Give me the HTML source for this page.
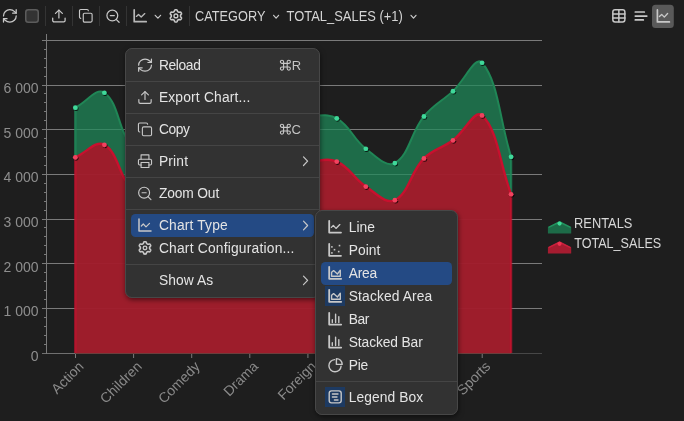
<!DOCTYPE html>
<html><head><meta charset="utf-8">
<style>
html,body{margin:0;padding:0;background:#1e1e1e;width:684px;height:421px;overflow:hidden}
svg{position:absolute;left:0;top:0;display:block;will-change:transform}
text{font-family:"Liberation Sans",sans-serif}
.yl{font-size:14px;fill:#8e8e8e}
.xl{font-size:14px;fill:#8a8a8a}
.tb{font-size:14.2px;fill:#d4d4d4}
.mi{font-size:13.8px;fill:#e4e4e4}
.sc{font-size:13px;fill:#c4c4c4}
.lg{font-size:14.4px;fill:#d8d8d8}
.ic{fill:none;stroke:#c8c8c8;stroke-width:1.5;stroke-linecap:round;stroke-linejoin:round}
.dim{stroke:#b8b8b8}
</style></head>
<body>
<svg width="684" height="421" viewBox="0 0 684 421">
<rect x="42" y="308" width="500" height="1" fill="#7a7a7a"/>
<rect x="42" y="263" width="500" height="1" fill="#7a7a7a"/>
<rect x="42" y="219" width="500" height="1" fill="#7a7a7a"/>
<rect x="42" y="174" width="500" height="1" fill="#7a7a7a"/>
<rect x="42" y="129" width="500" height="1" fill="#7a7a7a"/>
<rect x="42" y="85" width="500" height="1" fill="#7a7a7a"/>
<rect x="42" y="40" width="500" height="1" fill="#7a7a7a"/>
<rect x="42" y="353" width="33" height="1" fill="#707070"/>
<rect x="75" y="353" width="467" height="1" fill="#474747"/>
<rect x="46" y="34" width="1" height="320" fill="#7a7a7a"/>
<rect x="44" y="344" width="2" height="1" fill="#7a7a7a"/>
<rect x="44" y="335" width="2" height="1" fill="#7a7a7a"/>
<rect x="44" y="326" width="2" height="1" fill="#7a7a7a"/>
<rect x="44" y="317" width="2" height="1" fill="#7a7a7a"/>
<rect x="44" y="299" width="2" height="1" fill="#7a7a7a"/>
<rect x="44" y="290" width="2" height="1" fill="#7a7a7a"/>
<rect x="44" y="281" width="2" height="1" fill="#7a7a7a"/>
<rect x="44" y="272" width="2" height="1" fill="#7a7a7a"/>
<rect x="44" y="254" width="2" height="1" fill="#7a7a7a"/>
<rect x="44" y="245" width="2" height="1" fill="#7a7a7a"/>
<rect x="44" y="236" width="2" height="1" fill="#7a7a7a"/>
<rect x="44" y="227" width="2" height="1" fill="#7a7a7a"/>
<rect x="44" y="210" width="2" height="1" fill="#7a7a7a"/>
<rect x="44" y="201" width="2" height="1" fill="#7a7a7a"/>
<rect x="44" y="192" width="2" height="1" fill="#7a7a7a"/>
<rect x="44" y="183" width="2" height="1" fill="#7a7a7a"/>
<rect x="44" y="165" width="2" height="1" fill="#7a7a7a"/>
<rect x="44" y="156" width="2" height="1" fill="#7a7a7a"/>
<rect x="44" y="147" width="2" height="1" fill="#7a7a7a"/>
<rect x="44" y="138" width="2" height="1" fill="#7a7a7a"/>
<rect x="44" y="120" width="2" height="1" fill="#7a7a7a"/>
<rect x="44" y="111" width="2" height="1" fill="#7a7a7a"/>
<rect x="44" y="102" width="2" height="1" fill="#7a7a7a"/>
<rect x="44" y="93" width="2" height="1" fill="#7a7a7a"/>
<rect x="44" y="76" width="2" height="1" fill="#7a7a7a"/>
<rect x="44" y="67" width="2" height="1" fill="#7a7a7a"/>
<rect x="44" y="58" width="2" height="1" fill="#7a7a7a"/>
<rect x="44" y="49" width="2" height="1" fill="#7a7a7a"/>
<text x="38.5" y="361.0" text-anchor="end" class="yl">0</text>
<text x="38.5" y="316.3" text-anchor="end" class="yl">1 000</text>
<text x="38.5" y="271.7" text-anchor="end" class="yl">2 000</text>
<text x="38.5" y="227.0" text-anchor="end" class="yl">3 000</text>
<text x="38.5" y="182.3" text-anchor="end" class="yl">4 000</text>
<text x="38.5" y="137.7" text-anchor="end" class="yl">5 000</text>
<text x="38.5" y="93.0" text-anchor="end" class="yl">6 000</text>
<path d="M75.30 107.68 C86.92 101.70 96.32 87.26 104.35 92.74 C119.56 103.11 117.59 132.19 133.40 147.31 C140.83 154.42 153.23 153.42 162.45 148.29 C176.47 140.49 177.50 122.39 191.50 114.97 C200.74 110.08 209.76 120.20 220.55 117.52 C233.00 114.43 237.78 101.05 249.60 100.55 C261.02 100.07 266.38 111.84 278.65 115.08 C289.62 117.98 296.10 115.26 307.70 115.90 C319.34 116.54 327.24 112.91 336.75 118.29 C350.48 126.05 352.67 138.62 365.80 148.74 C375.91 156.53 386.23 167.86 394.85 163.07 C409.47 154.94 410.24 133.35 423.90 116.44 C433.48 104.58 441.64 101.59 452.95 91.14 C464.88 80.13 475.21 55.09 482.00 62.77 C498.45 81.38 499.43 119.23 511.05 156.86 L511.05 353.50 L75.30 353.50 Z" fill="#1f8a5a" fill-opacity="0.72"/>
<path d="M75.30 107.68 C86.92 101.70 96.32 87.26 104.35 92.74 C119.56 103.11 117.59 132.19 133.40 147.31 C140.83 154.42 153.23 153.42 162.45 148.29 C176.47 140.49 177.50 122.39 191.50 114.97 C200.74 110.08 209.76 120.20 220.55 117.52 C233.00 114.43 237.78 101.05 249.60 100.55 C261.02 100.07 266.38 111.84 278.65 115.08 C289.62 117.98 296.10 115.26 307.70 115.90 C319.34 116.54 327.24 112.91 336.75 118.29 C350.48 126.05 352.67 138.62 365.80 148.74 C375.91 156.53 386.23 167.86 394.85 163.07 C409.47 154.94 410.24 133.35 423.90 116.44 C433.48 104.58 441.64 101.59 452.95 91.14 C464.88 80.13 475.21 55.09 482.00 62.77 C498.45 81.38 499.43 119.23 511.05 156.86" fill="none" stroke="#208656" stroke-width="2"/>
<path d="M511.05 156.86 V194.25" stroke="#1f8a5a" stroke-opacity="0.8" stroke-width="2.4"/>
<path d="M75.30 107.68 V157.35" stroke="#1f8a5a" stroke-opacity="0.8" stroke-width="2.4"/>
<path d="M75.30 157.35 C86.92 152.33 95.69 140.03 104.35 144.82 C118.93 152.90 118.36 177.76 133.40 189.52 C141.60 195.93 153.22 195.40 162.45 190.23 C176.46 182.39 177.66 163.15 191.50 157.00 C200.90 152.82 209.56 166.14 220.55 164.42 C232.80 162.50 237.95 147.97 249.60 147.90 C261.19 147.82 266.26 161.02 278.65 164.04 C289.50 166.68 296.07 162.54 307.70 162.04 C319.31 161.55 326.73 157.34 336.75 161.57 C349.97 167.14 353.15 178.13 365.80 186.53 C376.39 193.56 385.86 204.49 394.85 200.14 C409.10 193.25 410.01 172.73 423.90 158.43 C433.25 148.80 441.98 148.44 452.95 140.32 C465.22 131.25 474.73 108.68 482.00 115.43 C497.97 130.25 499.43 162.72 511.05 194.25 L511.05 353.50 L75.30 353.50 Z" fill="#ac1529" fill-opacity="0.9"/>
<path d="M511.05 194.25 V353.00" stroke="#c8102e" stroke-opacity="0.75" stroke-width="2.4"/>
<path d="M75.30 157.35 V353.00" stroke="#c8102e" stroke-opacity="0.75" stroke-width="2.4"/>
<path d="M75.30 157.35 C86.92 152.33 95.69 140.03 104.35 144.82 C118.93 152.90 118.36 177.76 133.40 189.52 C141.60 195.93 153.22 195.40 162.45 190.23 C176.46 182.39 177.66 163.15 191.50 157.00 C200.90 152.82 209.56 166.14 220.55 164.42 C232.80 162.50 237.95 147.97 249.60 147.90 C261.19 147.82 266.26 161.02 278.65 164.04 C289.50 166.68 296.07 162.54 307.70 162.04 C319.31 161.55 326.73 157.34 336.75 161.57 C349.97 167.14 353.15 178.13 365.80 186.53 C376.39 193.56 385.86 204.49 394.85 200.14 C409.10 193.25 410.01 172.73 423.90 158.43 C433.25 148.80 441.98 148.44 452.95 140.32 C465.22 131.25 474.73 108.68 482.00 115.43 C497.97 130.25 499.43 162.72 511.05 194.25" fill="none" stroke="#c8102e" stroke-width="2.4"/>
<rect x="75.00" y="354" width="1" height="4" fill="#7a7a7a"/>
<text transform="translate(84.6 367.3) rotate(-45)" text-anchor="end" class="xl">Action</text>
<rect x="133.10" y="354" width="1" height="4" fill="#7a7a7a"/>
<text transform="translate(142.7 367.3) rotate(-45)" text-anchor="end" class="xl">Children</text>
<rect x="191.20" y="354" width="1" height="4" fill="#7a7a7a"/>
<text transform="translate(200.8 367.3) rotate(-45)" text-anchor="end" class="xl">Comedy</text>
<rect x="249.30" y="354" width="1" height="4" fill="#7a7a7a"/>
<text transform="translate(258.9 367.3) rotate(-45)" text-anchor="end" class="xl">Drama</text>
<rect x="307.40" y="354" width="1" height="4" fill="#7a7a7a"/>
<text transform="translate(317.0 367.3) rotate(-45)" text-anchor="end" class="xl">Foreign</text>
<rect x="365.50" y="354" width="1" height="4" fill="#7a7a7a"/>
<text transform="translate(375.1 367.3) rotate(-45)" text-anchor="end" class="xl">Horror</text>
<rect x="423.60" y="354" width="1" height="4" fill="#7a7a7a"/>
<text transform="translate(433.2 367.3) rotate(-45)" text-anchor="end" class="xl">New</text>
<rect x="481.70" y="354" width="1" height="4" fill="#7a7a7a"/>
<text transform="translate(491.3 367.3) rotate(-45)" text-anchor="end" class="xl">Sports</text>
<defs><filter id="sh" x="-50%" y="-50%" width="200%" height="200%"><feDropShadow dx="0.8" dy="1.0" stdDeviation="0.6" flood-color="#000" flood-opacity="0.8"/></filter></defs>
<g filter="url(#sh)">
<circle cx="75.30" cy="107.68" r="2.35" fill="#3fd99a"/>
<circle cx="104.35" cy="92.74" r="2.35" fill="#3fd99a"/>
<circle cx="133.40" cy="147.31" r="2.35" fill="#3fd99a"/>
<circle cx="162.45" cy="148.29" r="2.35" fill="#3fd99a"/>
<circle cx="191.50" cy="114.97" r="2.35" fill="#3fd99a"/>
<circle cx="220.55" cy="117.52" r="2.35" fill="#3fd99a"/>
<circle cx="249.60" cy="100.55" r="2.35" fill="#3fd99a"/>
<circle cx="278.65" cy="115.08" r="2.35" fill="#3fd99a"/>
<circle cx="307.70" cy="115.90" r="2.35" fill="#3fd99a"/>
<circle cx="336.75" cy="118.29" r="2.35" fill="#3fd99a"/>
<circle cx="365.80" cy="148.74" r="2.35" fill="#3fd99a"/>
<circle cx="394.85" cy="163.07" r="2.35" fill="#3fd99a"/>
<circle cx="423.90" cy="116.44" r="2.35" fill="#3fd99a"/>
<circle cx="452.95" cy="91.14" r="2.35" fill="#3fd99a"/>
<circle cx="482.00" cy="62.77" r="2.35" fill="#3fd99a"/>
<circle cx="511.05" cy="156.86" r="2.35" fill="#3fd99a"/>
<circle cx="75.30" cy="157.35" r="2.35" fill="#f2425e"/>
<circle cx="104.35" cy="144.82" r="2.35" fill="#f2425e"/>
<circle cx="133.40" cy="189.52" r="2.35" fill="#f2425e"/>
<circle cx="162.45" cy="190.23" r="2.35" fill="#f2425e"/>
<circle cx="191.50" cy="157.00" r="2.35" fill="#f2425e"/>
<circle cx="220.55" cy="164.42" r="2.35" fill="#f2425e"/>
<circle cx="249.60" cy="147.90" r="2.35" fill="#f2425e"/>
<circle cx="278.65" cy="164.04" r="2.35" fill="#f2425e"/>
<circle cx="307.70" cy="162.04" r="2.35" fill="#f2425e"/>
<circle cx="336.75" cy="161.57" r="2.35" fill="#f2425e"/>
<circle cx="365.80" cy="186.53" r="2.35" fill="#f2425e"/>
<circle cx="394.85" cy="200.14" r="2.35" fill="#f2425e"/>
<circle cx="423.90" cy="158.43" r="2.35" fill="#f2425e"/>
<circle cx="452.95" cy="140.32" r="2.35" fill="#f2425e"/>
<circle cx="482.00" cy="115.43" r="2.35" fill="#f2425e"/>
<circle cx="511.05" cy="194.25" r="2.35" fill="#f2425e"/>
</g>
<g class="ic" style="stroke-width:1.80px" transform="matrix(0.7056 0 0 0.6889 1.383 7.633)" ><path d="M3 12a9 9 0 0 1 9-9 9.75 9.75 0 0 1 6.74 2.74L21 8"/><path d="M21 3v5h-5"/><path d="M21 12a9 9 0 0 1-9 9 9.75 9.75 0 0 1-6.74-2.74L3 16"/><path d="M8 16H3v5"/></g>
<rect x="25.75" y="9.75" width="12.5" height="12.5" rx="2.5" fill="#333333" stroke="#5c5c5c" stroke-width="1.5"/>
<rect x="45" y="6" width="1" height="20" fill="#343434"/>
<rect x="72" y="6" width="1" height="20" fill="#343434"/>
<rect x="99" y="6" width="1" height="20" fill="#343434"/>
<rect x="126" y="6" width="1" height="20" fill="#343434"/>
<rect x="189" y="6" width="1" height="20" fill="#343434"/>
<g class="ic" style="stroke-width:1.80px" transform="matrix(0.6889 0 0 0.6556 50.633 8.133)" ><path d="M21 15v4a2 2 0 0 1-2 2H5a2 2 0 0 1-2-2v-4"/><path d="M17 8 12 3 7 8"/><path d="M12 3v12"/></g>
<g class="ic" style="stroke-width:1.80px" transform="matrix(0.6300 0 0 0.6300 78.240 8.240)" ><rect width="14" height="14" x="8" y="8" rx="2" ry="2"/><path d="M4 16c-1.1 0-2-.9-2-2V4c0-1.1.9-2 2-2h10c1.1 0 2 .9 2 2"/></g>
<g class="ic" style="stroke-width:1.80px" transform="matrix(0.6778 0 0 0.6722 104.867 8.183)" ><circle cx="11" cy="11" r="8"/><path d="M21 21l-4.35-4.35"/><path d="M8 11h6"/></g>
<g class="ic dim" style="stroke-width:1.70px"><path d="M134.20 9.90 V21.70 H146.20"/><path d="M136.40 16.40 L138.50 14.40 L141.20 17.00 L144.80 13.60" style="stroke-width:1.36px"/></g>
<path class="ic" style="stroke-width:1.20px" d="M155.20 15.30 L157.90 18.20 L160.60 15.30"/>
<g class="ic" style="stroke-width:1.60px"><path d="M180.50 15.90 L180.50 16.06 L180.50 16.22 L180.50 16.38 L180.51 16.55 L180.56 16.72 L180.69 16.92 L180.92 17.15 L181.21 17.42 L181.42 17.69 L181.51 17.94 L181.50 18.16 L181.45 18.37 L181.38 18.57 L181.28 18.76 L181.18 18.95 L181.07 19.13 L180.95 19.31 L180.82 19.47 L180.66 19.62 L180.47 19.73 L180.21 19.78 L179.87 19.74 L179.50 19.62 L179.18 19.54 L178.94 19.53 L178.77 19.57 L178.62 19.64 L178.48 19.72 L178.34 19.80 L178.20 19.88 L178.06 19.96 L177.92 20.04 L177.78 20.12 L177.65 20.22 L177.52 20.35 L177.41 20.56 L177.33 20.88 L177.24 21.26 L177.11 21.58 L176.94 21.77 L176.74 21.88 L176.54 21.94 L176.32 21.98 L176.11 21.99 L175.90 22.00 L175.69 21.99 L175.48 21.98 L175.26 21.94 L175.06 21.88 L174.86 21.77 L174.69 21.58 L174.56 21.26 L174.47 20.88 L174.39 20.56 L174.28 20.35 L174.15 20.22 L174.02 20.12 L173.88 20.04 L173.74 19.96 L173.60 19.88 L173.46 19.80 L173.32 19.72 L173.18 19.64 L173.03 19.57 L172.86 19.53 L172.62 19.54 L172.30 19.62 L171.93 19.74 L171.59 19.78 L171.33 19.73 L171.14 19.62 L170.98 19.47 L170.85 19.31 L170.73 19.13 L170.62 18.95 L170.52 18.76 L170.42 18.57 L170.35 18.37 L170.30 18.16 L170.29 17.94 L170.38 17.69 L170.59 17.42 L170.88 17.15 L171.11 16.92 L171.24 16.72 L171.29 16.55 L171.30 16.38 L171.30 16.22 L171.30 16.06 L171.30 15.90 L171.30 15.74 L171.30 15.58 L171.30 15.42 L171.29 15.25 L171.24 15.08 L171.11 14.88 L170.88 14.65 L170.59 14.38 L170.38 14.11 L170.29 13.86 L170.30 13.64 L170.35 13.43 L170.42 13.23 L170.52 13.04 L170.62 12.85 L170.73 12.67 L170.85 12.49 L170.98 12.33 L171.14 12.18 L171.33 12.07 L171.59 12.02 L171.93 12.06 L172.30 12.18 L172.62 12.26 L172.86 12.27 L173.03 12.23 L173.18 12.16 L173.32 12.08 L173.46 12.00 L173.60 11.92 L173.74 11.84 L173.88 11.76 L174.02 11.68 L174.15 11.58 L174.28 11.45 L174.39 11.24 L174.47 10.92 L174.56 10.54 L174.69 10.22 L174.86 10.03 L175.06 9.92 L175.26 9.86 L175.48 9.82 L175.69 9.81 L175.90 9.80 L176.11 9.81 L176.32 9.82 L176.54 9.86 L176.74 9.92 L176.94 10.03 L177.11 10.22 L177.24 10.54 L177.33 10.92 L177.41 11.24 L177.52 11.45 L177.65 11.58 L177.78 11.68 L177.92 11.76 L178.06 11.84 L178.20 11.92 L178.34 12.00 L178.48 12.08 L178.62 12.16 L178.77 12.23 L178.94 12.27 L179.18 12.26 L179.50 12.18 L179.87 12.06 L180.21 12.02 L180.47 12.07 L180.66 12.18 L180.82 12.33 L180.95 12.49 L181.07 12.67 L181.18 12.85 L181.28 13.04 L181.38 13.23 L181.45 13.43 L181.50 13.64 L181.51 13.86 L181.42 14.11 L181.21 14.38 L180.92 14.65 L180.69 14.88 L180.56 15.08 L180.51 15.25 L180.50 15.42 L180.50 15.58 L180.50 15.74Z"/><circle cx="175.90" cy="15.90" r="1.90" style="stroke-width:1.36px"/></g>
<text id="t_cat" x="195.10" y="21.30" class="tb" textLength="70.31" lengthAdjust="spacingAndGlyphs">CATEGORY</text>
<path class="ic" style="stroke-width:1.20px" d="M273.60 15.30 L276.10 18.20 L278.60 15.30"/>
<text id="t_ts1" x="286.60" y="21.30" class="tb" textLength="116.22" lengthAdjust="spacingAndGlyphs">TOTAL_SALES (+1)</text>
<path class="ic" style="stroke-width:1.20px" d="M411.00 15.30 L413.50 18.20 L416.00 15.30"/>
<g class="ic" style="stroke-width:1.5px"><rect x="612.85" y="9.65" width="12" height="12.3" rx="2.2"/><path d="M613 13.9H625 M613 18.1H625 M618.85 9.8V21.8"/></g>
<g class="ic" style="stroke-width:1.7px"><path d="M635.3 12H644.3 M635.3 16.1H646.8 M635.3 19.9H643.3"/></g>
<rect x="652" y="4.8" width="21.8" height="23.2" rx="3.5" fill="#595959"/>
<g class="ic" style="stroke-width:1.70px"><path d="M657.40 9.90 V21.90 H669.40"/><path d="M659.40 16.60 L661.70 14.40 L664.30 17.10 L667.60 13.50" style="stroke-width:1.36px"/></g>
<path d="M547.90 227.20 L559.55 221.60 L571.20 227.20 L571.20 233.40 L547.90 233.40 Z" fill="#1d6b48"/><path d="M548.50 227.40 L559.55 222.00 L570.60 227.40" fill="none" stroke="#22925e" stroke-width="1.6"/><circle cx="559.55" cy="223.60" r="2.1" fill="#3ddc97"/>
<text id="t_lg1" x="574.10" y="228.00" class="lg" textLength="58.31" lengthAdjust="spacingAndGlyphs">RENTALS</text>
<path d="M547.90 247.40 L559.55 241.80 L571.20 247.40 L571.20 253.60 L547.90 253.60 Z" fill="#a51c30"/><path d="M548.50 247.60 L559.55 242.20 L570.60 247.60" fill="none" stroke="#c8203c" stroke-width="1.6"/><circle cx="559.55" cy="243.80" r="2.1" fill="#ee3050"/>
<text id="t_lg2" x="574.20" y="248.20" class="lg" textLength="87.05" lengthAdjust="spacingAndGlyphs">TOTAL_SALES</text>
<defs><filter id="msh" x="-20%" y="-20%" width="140%" height="140%"><feDropShadow dx="0.5" dy="2" stdDeviation="2.4" flood-color="#000" flood-opacity="0.5"/></filter></defs>
<rect x="125.5" y="48.5" width="194" height="249" rx="6.5" fill="#323232" stroke="#474747" stroke-width="1" filter="url(#msh)"/>
<rect x="126" y="81" width="193" height="1" fill="#454545"/>
<rect x="126" y="113" width="193" height="1" fill="#454545"/>
<rect x="126" y="145" width="193" height="1" fill="#454545"/>
<rect x="126" y="177" width="193" height="1" fill="#454545"/>
<rect x="126" y="209" width="193" height="1" fill="#454545"/>
<rect x="126" y="264" width="193" height="1" fill="#454545"/>
<rect x="131" y="214" width="183" height="23" rx="4.5" fill="#244a84"/>
<g class="ic" style="stroke-width:1.70px" transform="matrix(0.7111 0 0 0.6667 136.517 57.150)" ><path d="M3 12a9 9 0 0 1 9-9 9.75 9.75 0 0 1 6.74 2.74L21 8"/><path d="M21 3v5h-5"/><path d="M21 12a9 9 0 0 1-9 9 9.75 9.75 0 0 1-6.74-2.74L3 16"/><path d="M8 16H3v5"/></g>
<g class="ic" style="stroke-width:1.70px" transform="matrix(0.6833 0 0 0.6500 136.800 89.700)" ><path d="M21 15v4a2 2 0 0 1-2 2H5a2 2 0 0 1-2-2v-4"/><path d="M17 8 12 3 7 8"/><path d="M12 3v12"/></g>
<g class="ic" style="stroke-width:1.70px" transform="matrix(0.6550 0 0 0.6350 137.140 121.780)" ><rect width="14" height="14" x="8" y="8" rx="2" ry="2"/><path d="M4 16c-1.1 0-2-.9-2-2V4c0-1.1.9-2 2-2h10c1.1 0 2 .9 2 2"/></g>
<g class="ic" style="stroke-width:1.70px" transform="matrix(0.6550 0 0 0.6350 137.140 153.580)" ><path d="M6 9V2h12v7"/><path d="M6 18H4a2 2 0 0 1-2-2v-5a2 2 0 0 1 2-2h16a2 2 0 0 1 2 2v5a2 2 0 0 1-2 2h-2"/><rect width="12" height="8" x="6" y="14"/></g>
<g class="ic" style="stroke-width:1.70px" transform="matrix(0.6833 0 0 0.6833 136.600 185.200)" ><circle cx="11" cy="11" r="8"/><path d="M21 21l-4.35-4.35"/><path d="M8 11h6"/></g>
<g class="ic" style="stroke-width:1.50px"><path d="M139.00 219.00 V231.00 H151.00"/><path d="M141.30 226.00 L143.30 224.00 L146.00 226.80 L149.50 223.30" style="stroke-width:1.20px"/></g>
<g class="ic" style="stroke-width:1.60px"><path d="M149.60 247.90 L149.60 248.06 L149.60 248.22 L149.60 248.38 L149.62 248.55 L149.67 248.72 L149.81 248.92 L150.06 249.16 L150.37 249.44 L150.60 249.72 L150.69 249.97 L150.69 250.20 L150.64 250.41 L150.56 250.61 L150.47 250.81 L150.37 251.00 L150.26 251.18 L150.13 251.36 L150.00 251.53 L149.84 251.68 L149.64 251.79 L149.37 251.84 L149.02 251.78 L148.62 251.65 L148.29 251.55 L148.05 251.53 L147.87 251.57 L147.72 251.64 L147.58 251.72 L147.44 251.80 L147.30 251.88 L147.16 251.96 L147.02 252.04 L146.88 252.13 L146.75 252.22 L146.62 252.36 L146.52 252.57 L146.44 252.91 L146.35 253.32 L146.22 253.66 L146.05 253.86 L145.85 253.98 L145.65 254.04 L145.43 254.08 L145.22 254.09 L145.00 254.10 L144.78 254.09 L144.57 254.08 L144.35 254.04 L144.15 253.98 L143.95 253.86 L143.78 253.66 L143.65 253.32 L143.56 252.91 L143.48 252.57 L143.38 252.36 L143.25 252.22 L143.12 252.13 L142.98 252.04 L142.84 251.96 L142.70 251.88 L142.56 251.80 L142.42 251.72 L142.28 251.64 L142.13 251.57 L141.95 251.53 L141.71 251.55 L141.38 251.65 L140.98 251.78 L140.63 251.84 L140.36 251.79 L140.16 251.68 L140.00 251.53 L139.87 251.36 L139.74 251.18 L139.63 251.00 L139.53 250.81 L139.44 250.61 L139.36 250.41 L139.31 250.20 L139.31 249.97 L139.40 249.72 L139.63 249.44 L139.94 249.16 L140.19 248.92 L140.33 248.72 L140.38 248.55 L140.40 248.38 L140.40 248.22 L140.40 248.06 L140.40 247.90 L140.40 247.74 L140.40 247.58 L140.40 247.42 L140.38 247.25 L140.33 247.08 L140.19 246.88 L139.94 246.64 L139.63 246.36 L139.40 246.08 L139.31 245.83 L139.31 245.60 L139.36 245.39 L139.44 245.19 L139.53 244.99 L139.63 244.80 L139.74 244.62 L139.87 244.44 L140.00 244.27 L140.16 244.12 L140.36 244.01 L140.63 243.96 L140.98 244.02 L141.38 244.15 L141.71 244.25 L141.95 244.27 L142.13 244.23 L142.28 244.16 L142.42 244.08 L142.56 244.00 L142.70 243.92 L142.84 243.84 L142.98 243.76 L143.12 243.67 L143.25 243.58 L143.38 243.44 L143.48 243.23 L143.56 242.89 L143.65 242.48 L143.78 242.14 L143.95 241.94 L144.15 241.82 L144.35 241.76 L144.57 241.72 L144.78 241.71 L145.00 241.70 L145.22 241.71 L145.43 241.72 L145.65 241.76 L145.85 241.82 L146.05 241.94 L146.22 242.14 L146.35 242.48 L146.44 242.89 L146.52 243.23 L146.62 243.44 L146.75 243.58 L146.88 243.67 L147.02 243.76 L147.16 243.84 L147.30 243.92 L147.44 244.00 L147.58 244.08 L147.72 244.16 L147.87 244.23 L148.05 244.27 L148.29 244.25 L148.62 244.15 L149.02 244.02 L149.37 243.96 L149.64 244.01 L149.84 244.12 L150.00 244.27 L150.13 244.44 L150.26 244.62 L150.37 244.80 L150.47 244.99 L150.56 245.19 L150.64 245.39 L150.69 245.60 L150.69 245.83 L150.60 246.08 L150.37 246.36 L150.06 246.64 L149.81 246.88 L149.67 247.08 L149.62 247.25 L149.60 247.42 L149.60 247.58 L149.60 247.74Z"/><circle cx="145.00" cy="247.90" r="1.80" style="stroke-width:1.36px"/></g>
<text id="t_m0" x="158.90" y="69.80" class="mi" textLength="41.93" lengthAdjust="spacing">Reload</text>
<text id="t_m1" x="158.90" y="101.80" class="mi" textLength="91.55" lengthAdjust="spacing">Export Chart...</text>
<text id="t_m2" x="158.90" y="133.80" class="mi" textLength="31.02" lengthAdjust="spacing">Copy</text>
<text id="t_m3" x="158.90" y="165.70" class="mi" textLength="29.17" lengthAdjust="spacing">Print</text>
<text id="t_m4" x="158.90" y="197.80" class="mi" textLength="60.34" lengthAdjust="spacing">Zoom Out</text>
<text id="t_m5" x="158.90" y="229.90" class="mi" textLength="68.83" lengthAdjust="spacing">Chart Type</text>
<text id="t_m6" x="158.90" y="252.90" class="mi" textLength="135.54" lengthAdjust="spacing">Chart Configuration...</text>
<text id="t_m7" x="158.90" y="284.90" class="mi" textLength="54.29" lengthAdjust="spacing">Show As</text>
<g class="ic sc2" style="stroke-width:1.10px" transform="matrix(1.0000 0 0 1.0000 280.40 60.20)"><path d="M3.2 3.2H6.8V6.8H3.2Z M3.2 3.2V1.6A1.6 1.6 0 1 0 1.6 3.2H3.2 M6.8 3.2V1.6A1.6 1.6 0 1 1 8.4 3.2H6.8 M6.8 6.8V8.4A1.6 1.6 0 1 0 8.4 6.8H6.8 M3.2 6.8V8.4A1.6 1.6 0 1 1 1.6 6.8H3.2"/></g>
<text x="291.8" y="69.8" class="sc">R</text>
<g class="ic sc2" style="stroke-width:1.10px" transform="matrix(1.0000 0 0 1.0000 280.40 124.20)"><path d="M3.2 3.2H6.8V6.8H3.2Z M3.2 3.2V1.6A1.6 1.6 0 1 0 1.6 3.2H3.2 M6.8 3.2V1.6A1.6 1.6 0 1 1 8.4 3.2H6.8 M6.8 6.8V8.4A1.6 1.6 0 1 0 8.4 6.8H6.8 M3.2 6.8V8.4A1.6 1.6 0 1 1 1.6 6.8H3.2"/></g>
<text x="291.5" y="133.8" class="sc">C</text>
<path class="ic" style="stroke-width:1.20px" d="M303.50 156.90 L307.60 161.20 L303.50 165.50"/>
<path class="ic" style="stroke-width:1.20px" d="M303.50 221.20 L307.60 225.50 L303.50 229.80"/>
<path class="ic" style="stroke-width:1.20px" d="M303.50 276.10 L307.60 280.40 L303.50 284.70"/>
<rect x="315.5" y="210.5" width="142" height="204" rx="6.5" fill="#323232" stroke="#474747" stroke-width="1" filter="url(#msh)"/>
<rect x="316" y="381" width="141" height="1" fill="#454545"/>
<rect x="321" y="262" width="131" height="23" rx="4.5" fill="#244a84"/>
<rect x="325" y="286" width="20" height="20" fill="#1d3a62"/>
<rect x="325" y="387" width="20" height="20" fill="#1d3a62"/>
<path class="ic" style="stroke-width:1.80px" d="M329.20 220.80 V232.60 H341.00"/>
<path class="ic" style="stroke-width:1.35px" d="M331.4 227.4 L333.3 225.4 L336.0 228.4 L339.8 224.6"/>
<path class="ic" style="stroke-width:1.80px" d="M329.20 244.00 V255.80 H341.00"/>
<rect x="331.10" y="246.10" width="1.6" height="1.6" fill="#c2c2c2"/>
<rect x="333.70" y="248.90" width="1.6" height="1.6" fill="#c2c2c2"/>
<rect x="331.10" y="252.10" width="1.6" height="1.6" fill="#c2c2c2"/>
<rect x="338.70" y="244.80" width="1.6" height="1.6" fill="#c2c2c2"/>
<rect x="337.90" y="250.80" width="1.6" height="1.6" fill="#c2c2c2"/>
<path class="ic" style="stroke-width:1.80px" d="M329.20 266.80 V278.80 H341.20"/>
<path class="ic" style="stroke-width:1.35px" d="M331.6 276.20 V272.20 L333.6 270.60 L337.4 274.00 L340.3 270.20 V276.20 Z"/>
<path class="ic" style="stroke-width:1.80px" d="M329.20 289.80 V301.80 H341.20"/>
<path class="ic" style="stroke-width:1.35px" d="M331.6 299.20 V295.20 L333.6 293.60 L337.4 297.00 L340.3 293.20 V299.20 Z"/>
<path class="ic" style="stroke-width:1.80px" d="M329.20 312.80 V324.60 H341.20"/>
<path class="ic" style="stroke-width:1.4px" d="M332.3 319.80 V322.60 M335.6 314.20 V322.60 M338.8 316.60 V322.60"/>
<path class="ic" style="stroke-width:1.80px" d="M329.20 335.80 V347.60 H341.20"/>
<path class="ic" style="stroke-width:1.4px" d="M332.3 342.80 V345.60 M335.6 337.20 V345.60 M338.8 339.60 V345.60"/>
<g class="ic" style="stroke-width:1.4px"><path d="M334.6 359.2 A6.1 6.1 0 1 0 341.5 366.1 L334.6 366.1 Z" style="stroke:none"/><path d="M334.6 359.6 A6.1 6.1 0 1 0 341.1 366.1"/><path d="M336.4 358.6 V364.4 H342.2 A5.8 5.8 0 0 0 336.4 358.6 Z"/></g>
<g class="ic" style="stroke-width:1.4px"><rect x="329.2" y="390.9" width="12" height="12" rx="2.3"/><path d="M332.4 394 H338 M332.4 397 H337 M334.4 400 H338"/></g>
<text id="t_s0" x="348.80" y="231.80" class="mi" textLength="26.09" lengthAdjust="spacing">Line</text>
<text id="t_s1" x="348.80" y="254.70" class="mi" textLength="31.45" lengthAdjust="spacing">Point</text>
<text id="t_s2" x="348.80" y="277.80" class="mi" textLength="28.36" lengthAdjust="spacing">Area</text>
<text id="t_s3" x="348.80" y="300.70" class="mi" textLength="83.48" lengthAdjust="spacing">Stacked Area</text>
<text id="t_s4" x="348.80" y="323.70" class="mi" textLength="20.48" lengthAdjust="spacing">Bar</text>
<text id="t_s5" x="348.80" y="346.70" class="mi" textLength="73.96" lengthAdjust="spacing">Stacked Bar</text>
<text id="t_s6" x="348.80" y="369.70" class="mi" textLength="19.35" lengthAdjust="spacing">Pie</text>
<text id="t_s7" x="348.80" y="401.60" class="mi" textLength="74.46" lengthAdjust="spacing">Legend Box</text>
</svg>
</body></html>
